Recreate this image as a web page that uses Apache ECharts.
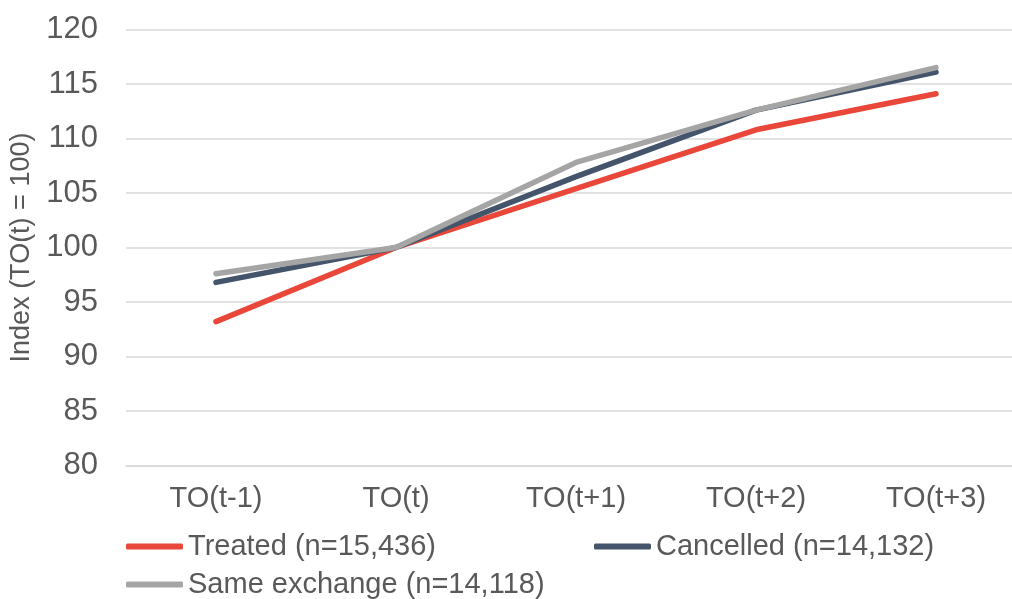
<!DOCTYPE html>
<html>
<head>
<meta charset="utf-8">
<script src="https://cdn.jsdelivr.net/npm/echarts@6/dist/echarts.min.js"></script>
<style>
  html, body { margin: 0; padding: 0; background: #ffffff; }
  #chart { width: 1012px; height: 599px; }
</style>
</head>
<body>
<div id="chart"></div>
<script>
// Turnover index, TO(t) = 100
const categories = ['TO(t-1)', 'TO(t)', 'TO(t+1)', 'TO(t+2)', 'TO(t+3)'];
const treated = [93.2, 100, 105.4, 110.8, 114.1];
const cancelled = [96.8, 100, 106.5, 112.6, 116.1];
const sameExchange = [97.6, 100, 107.8, 112.6, 116.5];

const seriesNames = ['Treated (n=15,436)', 'Cancelled (n=14,132)', 'Same exchange (n=14,118)'];
const seriesColors = ['#E8473A', '#44546A', '#A5A5A5'];
const seriesValues = [treated, cancelled, sameExchange];

const FONT = '"Liberation Sans", Arial, sans-serif';
const TEXT = '#595959';

const chart = echarts.init(document.getElementById('chart'), null, { renderer: 'canvas' });

const legendBase = {
  orient: 'horizontal',
  left: 121,
  icon: 'roundRect',
  itemWidth: 57,
  itemHeight: 6,
  textStyle: { fontFamily: FONT, fontSize: 29, color: TEXT }
};

chart.setOption({
  animation: false,
  backgroundColor: '#ffffff',
  // plot area runs past the right edge of the canvas
  grid: { left: 126, width: 900, top: 29.5, bottom: 133.5, containLabel: false, outerBoundsMode: 'none' },
  legend: [
    Object.assign({}, legendBase, { top: 527, itemGap: 158, data: [seriesNames[0], seriesNames[1]] }),
    Object.assign({}, legendBase, { top: 565, data: [seriesNames[2]] })
  ],
  xAxis: {
    type: 'category',
    data: categories,
    boundaryGap: true,
    axisLine: { show: true, lineStyle: { color: '#D9D9D9', width: 1.5 } },
    axisTick: { show: false },
    axisLabel: { margin: 19, fontFamily: FONT, fontSize: 29, color: TEXT }
  },
  yAxis: {
    type: 'value',
    min: 80,
    max: 120,
    interval: 5,
    name: 'Index (TO(t) = 100)',
    nameLocation: 'middle',
    nameGap: 81,
    nameTextStyle: { fontFamily: FONT, fontSize: 27, color: TEXT },
    axisLine: { show: false },
    axisTick: { show: false },
    axisLabel: { margin: 28, fontFamily: FONT, fontSize: 31, color: TEXT },
    splitLine: { lineStyle: { color: '#D9D9D9', width: 1.5 } }
  },
  series: seriesValues.map((vals, i) => ({
    name: seriesNames[i],
    type: 'line',
    data: vals,
    symbol: 'none',
    smooth: false,
    color: seriesColors[i],
    lineStyle: { width: 5.5, color: seriesColors[i], cap: 'round', join: 'round' }
  }))
});
</script>
</body>
</html>
